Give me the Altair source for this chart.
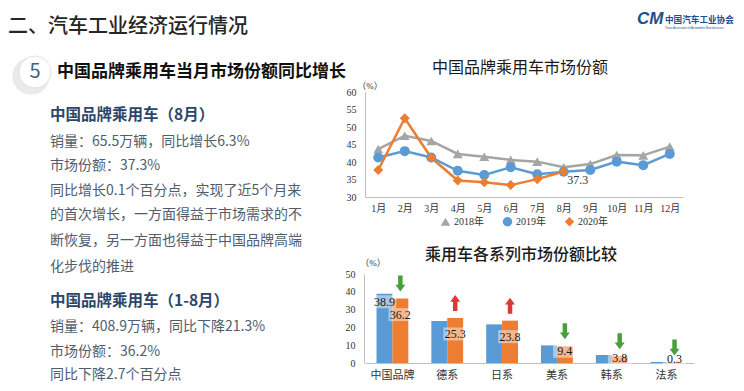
import altair as alt
import pandas as pd

# ---------------- data ----------------
months = ["1月", "2月", "3月", "4月", "5月", "6月", "7月", "8月", "9月", "10月", "11月", "12月"]
years = ["2018年", "2019年", "2020年"]
share_2018 = [43.7, 47.5, 46.0, 42.3, 41.5, 40.6, 40.1, 38.5, 39.4, 42.0, 41.9, 44.4]
share_2019 = [41.3, 43.1, 41.3, 37.5, 36.3, 38.5, 36.5, 37.2, 37.7, 40.1, 39.1, 42.3]
share_2020 = [37.7, 52.5, 41.2, 34.7, 34.2, 33.4, 35.1, 37.3]

series_cats = ["中国品牌", "德系", "日系", "美系", "韩系", "法系"]
ytd_periods = ["2019年1-8月", "2020年1-8月"]
ytd_2019 = [38.9, 23.6, 21.7, 9.9, 4.5, 0.6]
ytd_2020 = [36.2, 25.3, 23.8, 9.4, 3.8, 0.3]

header_title = "二、汽车工业经济运行情况"
section_no = "5"
section_title = "中国品牌乘用车当月市场份额同比增长"
org_mark = "CM"
org_name = "中国汽车工业协会"
org_name_en = "China Association of Automobile Manufacturers"
line_title = "中国品牌乘用车市场份额"
bar_title = "乘用车各系列市场份额比较"
unit_label = "（%）"
aug_heading = "中国品牌乘用车（8月）"
aug_lines = [
    "销量：65.5万辆，同比增长6.3%",
    "市场份额：37.3%",
    "同比增长0.1个百分点，实现了近5个月来",
    "的首次增长，一方面得益于市场需求的不",
    "断恢复，另一方面也得益于中国品牌高端",
    "化步伐的推进",
]
ytd_heading = "中国品牌乘用车（1-8月）"
ytd_lines = [
    "销量：408.9万辆，同比下降21.3%",
    "市场份额：36.2%",
    "同比下降2.7个百分点",
]

# ---------------- styles ----------------
CJK = "Noto Sans CJK SC"
SERIF = "'Liberation Serif', 'Noto Sans CJK SC', serif"
BLUE = "#5B9BD5"
ORANGE = "#ED7D31"
GRAY = "#A5A5A5"
GREEN = "#4A9E3C"
RED = "#D93A35"
AXIS_C = "#BFBFBF"

# ---------------- tables ----------------
line_rows = []
for yr, vals in zip(years, [share_2018, share_2019, share_2020]):
    for m, v in zip(months, vals):
        line_rows.append({"month": m, "year": yr, "share": v})
line_df = pd.DataFrame(line_rows)

bar_rows = []
for i, c in enumerate(series_cats):
    bar_rows.append({"cat": c, "period": ytd_periods[0], "v": ytd_2019[i], "other": ytd_2020[i]})
    bar_rows.append({"cat": c, "period": ytd_periods[1], "v": ytd_2020[i], "other": ytd_2019[i]})
bar_df = pd.DataFrame(bar_rows)

dummy = pd.DataFrame({"a": [0]})

# ---------------- line chart ----------------
lx = alt.X("month:N", sort=months,
           scale=alt.Scale(type="point", range=[357, 675], padding=0.5),
           axis=alt.Axis(orient="bottom", offset=-186, title=None, labelAngle=0, ticks=False,
                         domainColor=AXIS_C, labelFont=SERIF, labelFontSize=10,
                         labelColor="#333333", labelPadding=6, grid=False))
ly = alt.Y("share:Q",
           scale=alt.Scale(domain=[30, 60], range=[189, 84], nice=False, zero=False),
           axis=alt.Axis(orient="left", offset=-357, values=[30, 35, 40, 45, 50, 55, 60], title=None,
                         ticks=False, labelPadding=9, domainColor=AXIS_C, grid=False,
                         labelFont=SERIF, labelFontSize=10, labelColor="#333333"))
leg = alt.Legend(title=None, orient="none", legendX=432, legendY=208, direction="horizontal",
                 labelFont=SERIF, labelFontSize=10, labelColor="#333333", symbolSize=90,
                 columnPadding=18, labelOffset=3)
lcolor_scale = alt.Scale(domain=years, range=[GRAY, BLUE, ORANGE])

lbase = alt.Chart(line_df).encode(x=lx, y=ly)
lines = lbase.mark_line(strokeWidth=2.5).encode(
    stroke=alt.Stroke("year:N", scale=lcolor_scale, legend=None))
points = lbase.mark_point(filled=True, size=100, opacity=1).encode(
    color=alt.Color("year:N", scale=lcolor_scale, legend=leg),
    shape=alt.Shape("year:N", scale=alt.Scale(domain=years, range=["triangle-up", "circle", "diamond"]),
                    legend=leg))
last_label = lbase.transform_filter(
    "datum.year == '2020年' && datum.month == '8月'"
).mark_text(font=SERIF, fontSize=12, color="#333333", dx=14, dy=9).encode(
    text=alt.Text("share:Q", format=".1f"))
line_group = alt.layer(lines, points, last_label)

# ---------------- bar chart ----------------
bx = alt.X("cat:N", sort=series_cats,
           scale=alt.Scale(type="band", range=[357, 686], paddingInner=0.42, paddingOuter=0.21),
           axis=alt.Axis(orient="bottom", offset=-20, title=None, labelAngle=0, ticks=False,
                         domainColor=AXIS_C, labelFont=SERIF, labelFontSize=11,
                         labelColor="#333333", labelPadding=6, grid=False))
by_axis = alt.Axis(orient="left", offset=-356, values=[0, 10, 20, 30, 40, 50], title=None,
                   ticks=False, labelPadding=9, domainColor=AXIS_C, grid=False,
                   labelFont=SERIF, labelFontSize=10, labelColor="#333333")
bscale = alt.Scale(domain=[0, 50], range=[355, 266], nice=False)
bxo = alt.XOffset("period:N", sort=ytd_periods)

bbase = alt.Chart(bar_df)
bars = bbase.mark_bar().encode(
    x=bx, xOffset=bxo,
    y=alt.Y("v:Q", scale=bscale, axis=by_axis),
    color=alt.Color("period:N", scale=alt.Scale(domain=ytd_periods, range=[BLUE, ORANGE]),
                    legend=alt.Legend(title=None, orient="none", legendX=440, legendY=392,
                                      direction="horizontal", labelFont=SERIF, labelFontSize=10,
                                      labelColor="#333333", columnPadding=18)))

labelled = bbase.transform_filter(
    "datum.period == '2020年1-8月' || datum.cat == '中国品牌'"
).transform_calculate(
    ly="datum.period == '2019年1-8月' ? datum.v - 4.5 : (datum.v > 15 ? datum.v - 9 : max(datum.v * 0.7, 2.5))"
)
RECT = "M-1,-0.55L1,-0.55L1,0.55L-1,0.55Z"
boxes = labelled.mark_point(shape=RECT, filled=True, color="white", opacity=0.45, size=560,
                            strokeWidth=0).encode(x=bx, xOffset=bxo, y=alt.Y("ly:Q", scale=bscale))
blabels = labelled.mark_text(font=SERIF, fontSize=12, color="#1a1a1a").encode(
    x=bx, xOffset=bxo, y=alt.Y("ly:Q", scale=bscale), text=alt.Text("v:Q", format=".1f"))

DOWN = "M-0.28,-1L0.28,-1L0.28,0.15L0.62,0.15L0,1L-0.62,0.15L-0.28,0.15Z"
UP = "M-0.28,1L0.28,1L0.28,-0.15L0.62,-0.15L0,-1L-0.62,-0.15L-0.28,-0.15Z"
arrow_base = bbase.transform_filter("datum.period == '2020年1-8月'").transform_calculate(
    ay="datum.v + 8.4")
arrows_down = arrow_base.transform_filter("datum.v < datum.other").mark_point(
    shape=DOWN, filled=True, fill=GREEN, opacity=1, size=256, strokeWidth=0).encode(
    x=bx, xOffset=bxo, y=alt.Y("ay:Q", scale=bscale))
arrows_up = arrow_base.transform_filter("datum.v >= datum.other").mark_point(
    shape=UP, filled=True, fill=RED, opacity=1, size=256, strokeWidth=0).encode(
    x=bx, xOffset=bxo, y=alt.Y("ay:Q", scale=bscale))
bar_group = alt.layer(bars, boxes, blabels, arrows_down, arrows_up)


# ---------------- free text ----------------
def txt(s, x, y, size, color, weight="normal", align="left", font=CJK, style="normal"):
    return alt.Chart(dummy).mark_text(
        text=s, fontSize=size, color=color, fontWeight=weight, align=align,
        baseline="middle", font=font, fontStyle=style
    ).encode(x=alt.value(x), y=alt.value(y))


def dot(x, y, size, fill, opacity=1.0, stroke=None):
    kw = dict(shape="circle", filled=True, fill=fill, size=size, opacity=opacity)
    if stroke:
        kw.update(stroke=stroke, strokeWidth=1)
    else:
        kw.update(strokeWidth=0)
    return alt.Chart(dummy).mark_point(**kw).encode(x=alt.value(x), y=alt.value(y))


texts = [
    txt(header_title, 0, 19, 20, "#262626", weight=500),
    txt(org_mark, 629, 11, 17, "#1F4E8F", weight="bold", font="'Liberation Sans', sans-serif", style="italic"),
    txt(org_name, 657, 11.5, 8.6, "#1F4E8F", weight="bold"),
    txt(org_name_en, 657, 19.5, 2.8, "#1F4E8F", font="'Liberation Sans', sans-serif"),
    dot(23, 68, 1400, "#d9d9d9", 0.55),
    dot(27, 64, 1024, "#ffffff", 1.0, stroke="#e3e3e3"),
    txt(section_no, 27, 64, 20, "#44607F", align="center"),
    txt(section_title, 49, 64, 17, "#111111", weight="bold"),
    txt(aug_heading, 42, 107, 15.5, "#2B4669", weight="bold"),
    txt(ytd_heading, 42, 293, 15.5, "#2B4669", weight="bold"),
    txt(line_title, 512, 60, 16, "#1a1a1a", align="center"),
    txt(bar_title, 513, 247, 16, "#1a1a1a", align="center", weight=500),
    txt(unit_label, 362, 78, 9, "#333333", align="center", font=SERIF),
    txt(unit_label, 365, 255, 9, "#333333", align="center", font=SERIF),
]
for s, yy in zip(aug_lines, [133.5, 158, 182.5, 207, 233, 258.5]):
    texts.append(txt(s, 42, yy, 14, "#4F5D6E"))
for s, yy in zip(ytd_lines, [319, 343.5, 366.5]):
    texts.append(txt(s, 42, yy, 14, "#4F5D6E"))

chart = alt.layer(line_group, bar_group, *texts).resolve_scale(
    x="independent", y="independent", color="independent", shape="independent",
    xOffset="independent"
).properties(
    width=728, height=375, autosize=alt.AutoSizeParams(type="none"), padding=0,
    background="white"
).configure_view(stroke=None)

chart.save("out.html", embed_options={"renderer": "svg", "actions": False})
